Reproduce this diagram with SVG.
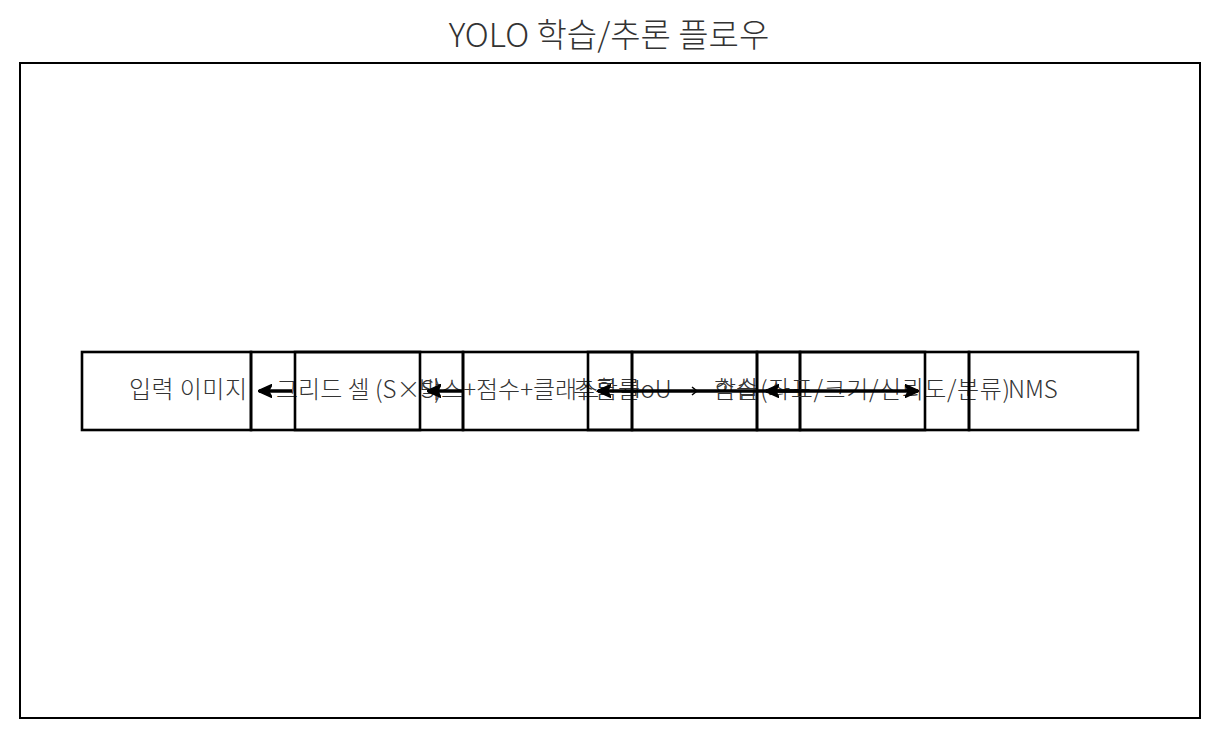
<svg xmlns="http://www.w3.org/2000/svg" width="1220" height="739" viewBox="0 0 1220 739">
<style>
.t{font-family:"Noto Sans CJK KR","Noto Sans",sans-serif;font-weight:300;fill:#333;}
.lbl{font-size:24px;}
.box{fill:none;stroke:#000;stroke-width:2.6;}
.edge{stroke:#000;stroke-width:3.5;fill:none;}
</style>
<defs>
<marker id="ah" viewBox="0 0 10 10" refX="9" refY="5" markerWidth="4.2" markerHeight="4.2" orient="auto">
<path d="M0,0.5 L10,5 L0,9.5 L2.5,5 Z" fill="#000" stroke="#000" stroke-width="1" stroke-linejoin="round"/>
</marker>
</defs>
<rect x="0" y="0" width="1220" height="739" fill="#fff"/>
<text class="t" x="609" y="47" font-size="33" text-anchor="middle">YOLO 학습/추론 플로우</text>
<rect x="20" y="63" width="1180" height="655" fill="none" stroke="#000" stroke-width="2"/>
<g id="nodes">
<g id="n1"><rect class="box" x="82" y="352" width="169" height="78"/><text class="t lbl" x="247" y="398" text-anchor="end" textLength="118" lengthAdjust="spacing">입력 이미지</text></g>
<g id="n2"><rect class="box" x="251" y="352" width="169" height="78"/><text class="t lbl" x="276" y="398">그리드 셀 (S×S)</text></g>
<g id="n3"><rect class="box" x="295" y="352" width="168" height="78"/><text class="t lbl" x="419" y="398">박스+점수+클래스</text></g>
<g id="n4"><rect class="box" x="463" y="352" width="169" height="78"/><text class="t lbl" x="573" y="398">추론</text><text class="t lbl" x="596" y="398">확률</text></g>
<g id="n5"><rect class="box" x="588" y="352" width="169" height="78"/><text class="t lbl" x="634" y="398">IoU</text></g>
<g id="n6"><rect class="box" x="632" y="352" width="168" height="78"/><text class="t lbl" x="714" y="398">손실</text><text class="t lbl" x="714" y="398">학습</text></g>
<g id="n7"><rect class="box" x="800" y="352" width="169" height="78"/><text class="t lbl" x="760" y="398" textLength="250" lengthAdjust="spacing">(좌표/크기/신뢰도/분류)</text></g>
<g id="n8"><rect class="box" x="757" y="352" width="168" height="78"/></g>
<g id="n9"><rect class="box" x="969" y="352" width="169" height="78"/><text class="t lbl" x="1008" y="398">NMS</text></g>
</g>
<g id="connectors">
<line class="edge" x1="292" y1="391" x2="259" y2="391" marker-end="url(#ah)"/>
<line class="edge" x1="462" y1="391" x2="428" y2="391" marker-end="url(#ah)"/>
<line class="edge" x1="700" y1="391" x2="598" y2="391" marker-end="url(#ah)"/>
<line class="edge" x1="700" y1="391" x2="918" y2="391" marker-end="url(#ah)"/>
<line class="edge" x1="800" y1="391" x2="766" y2="391" marker-end="url(#ah)"/>
<path d="M692,387 L697,391 L692,395" fill="none" stroke="#000" stroke-width="1.5"/>
</g>
</svg>
